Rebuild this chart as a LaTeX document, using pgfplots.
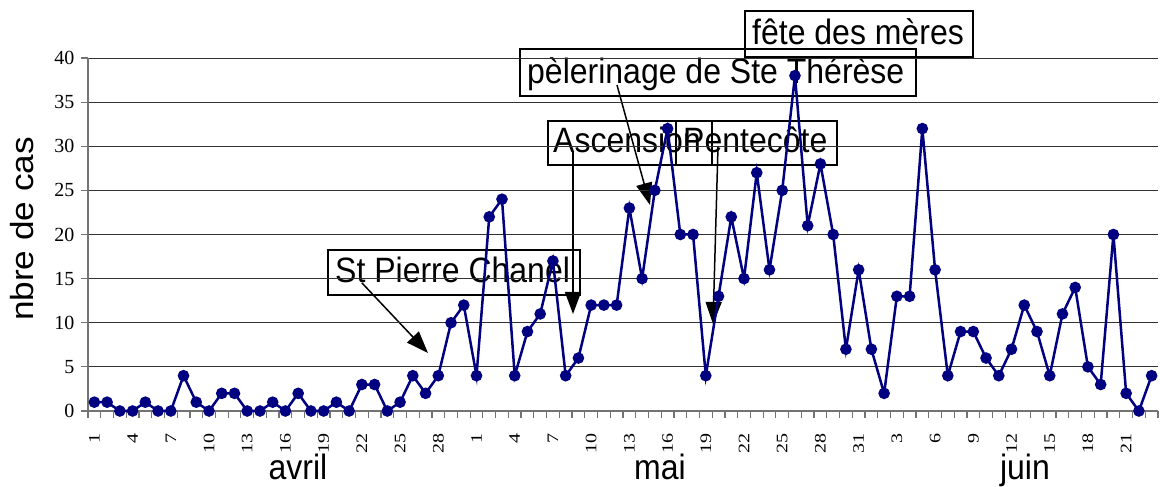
\documentclass[border=0pt]{standalone}
\usepackage{pgfplots}
\pgfplotsset{compat=1.18}
\usepackage{fontspec}
\setmainfont{Liberation Serif}
\newfontfamily\arial{Liberation Sans}
\usetikzlibrary{arrows.meta}
\definecolor{navy}{RGB}{0,0,128}
\newcommand{\lab}[1]{\scalebox{1}[1.1]{\arial\fontsize{32}{36}\selectfont #1}}
\newcommand{\s}[1]{\scalebox{1.25}[1]{\fontsize{16}{16}\selectfont #1}}
\begin{document}
\begin{tikzpicture}
\path[use as bounding box] (-88pt,-76pt) rectangle (1072pt,411pt);
% annotation boxes
\draw[line width=1.5pt] (240pt,116pt) rectangle (492pt,161pt);
\node[anchor=base west, inner sep=0] at (247pt,128pt) {\lab{St Pierre Chanel}};
\draw[line width=1.5pt] (432pt,315pt) rectangle (828pt,362pt);
\node[anchor=base west, inner sep=0] at (439pt,327pt) {\lab{pèlerinage de Ste Thérèse}};
\draw[line width=1.5pt] (460pt,246pt) rectangle (624pt,290pt);
\node[anchor=base west, inner sep=0] at (465pt,258pt) {\lab{Ascension}};
\draw[line width=1.5pt] (588pt,246pt) rectangle (749pt,290pt);
\node[anchor=base west, inner sep=0] at (595pt,258pt) {\lab{Pentecôte}};
\draw[line width=1.5pt] (657pt,354pt) rectangle (885pt,400pt);
\node[anchor=base west, inner sep=0] at (664pt,366pt) {\lab{fête des mères}};
% arrows
\draw[line width=1.5pt, -{Triangle[length=22pt,width=16pt]}] (274pt,128pt) -- (340pt,58pt);
\draw[line width=1.5pt, -{Triangle[length=22pt,width=16pt]}] (529pt,326pt) -- (562pt,206pt);
\draw[line width=1.5pt, -{Triangle[length=22pt,width=16pt]}] (485pt,259pt) -- (485pt,97pt);
\draw[line width=1.5pt, -{Triangle[length=22pt,width=16pt]}] (630pt,264pt) -- (625pt,87pt);
% labels
\node[rotate=90] at (-66pt,182pt) {\scalebox{1.1}[1]{\arial\fontsize{32}{36}\selectfont nbre de cas}};
\node[anchor=base] at (210pt,-69pt) {\lab{avril}};
\node[anchor=base] at (572pt,-69pt) {\lab{mai}};
\node[anchor=base] at (937pt,-69pt) {\lab{juin}};
\begin{axis}[
  at={(0pt,0pt)}, anchor=south west, scale only axis,
  width=1070pt, height=353pt,
  xmin=-0.5, xmax=83.5, ymin=0, ymax=40,
  axis x line=bottom, axis y line=left,
  axis line style={-, draw=black!55, line width=1.2pt},
  ytick={0,5,...,40},
  ymajorgrids, grid style={draw=black!80, line width=0.9pt},
  xtick={0,3,...,81},
  xticklabels={\s{1},\s{4},\s{7},\s{10},\s{13},\s{16},\s{19},\s{22},\s{25},\s{28},\s{1},\s{4},\s{7},\s{10},\s{13},\s{16},\s{19},\s{22},\s{25},\s{28},\s{31},\s{3},\s{6},\s{9},\s{12},\s{15},\s{18},\s{21}},
  minor xtick={-0.5,0.5,...,83.5},
  tick align=outside,
  major tick length=7pt, minor tick length=7pt,
  tick style={draw=black!55, line width=1.2pt},
  major x tick style={draw=none},
  /pgf/number format/assume math mode=true,
  yticklabel style={font=\fontsize{20}{20}\selectfont, xshift=-3pt},
  xticklabel style={rotate=90, anchor=east},
  xticklabel shift=12pt,
  clip=false,
]
\addplot[navy, line width=2.5pt, mark=*, mark size=4.5pt, mark options={solid, fill=navy, draw=navy}] table[x expr=\coordindex, y index=0, header=false] {
1
1
0
0
1
0
0
4
1
0
2
2
0
0
1
0
2
0
0
1
0
3
3
0
1
4
2
4
10
12
4
22
24
4
9
11
17
4
6
12
12
12
23
15
25
32
20
20
4
13
22
15
27
16
25
38
21
28
20
7
16
7
2
13
13
32
16
4
9
9
6
4
7
12
9
4
11
14
5
3
20
2
0
4
};
\end{axis}
\end{tikzpicture}
\end{document}
